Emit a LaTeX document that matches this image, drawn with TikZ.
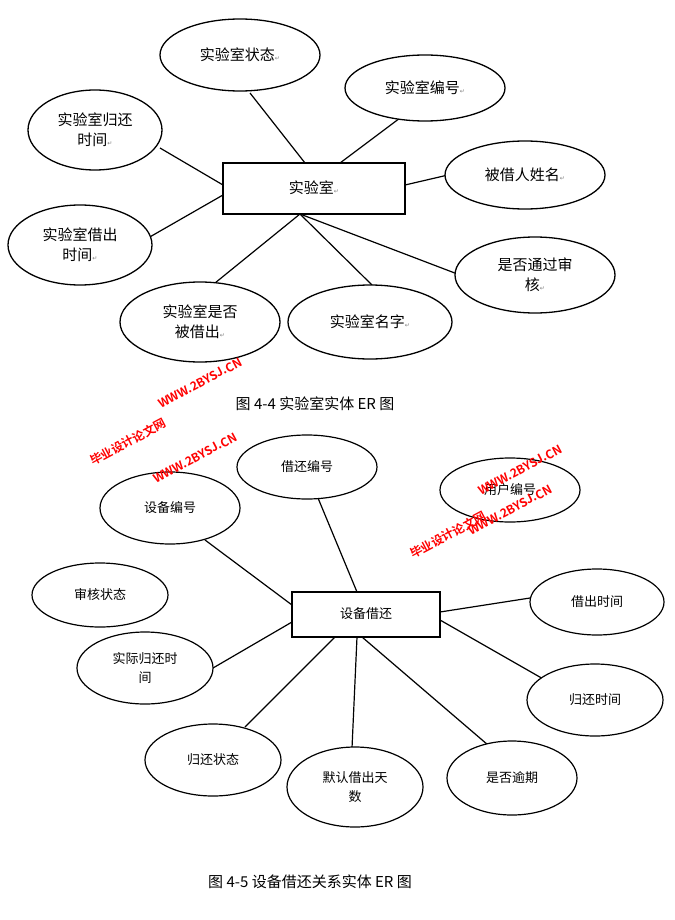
\documentclass[tikz,border=0pt]{standalone}
\usepackage{fontspec}
\setmainfont{Noto Sans CJK SC}
\newfontfamily\dv{DejaVu Sans}
\newfontfamily\wmf{Noto Sans CJK SC Bold}
\begin{document}
\begin{tikzpicture}[x=1pt,y=-1pt,
 ln/.style={line width=1.2pt},
 wm/.style={text=red,font=\wmf\fontsize{12}{12}\selectfont,rotate=28}]
\useasboundingbox (0,0) rectangle (674,920);
\newcommand\rt{{\dv\fontsize{6}{6}\selectfont\color{gray}↵}}
% top lines
\draw[ln] (305,163)--(250,93);
\draw[ln] (340,163)--(400,118);
\draw[ln] (223,185)--(160,148);
\draw[ln] (223,195)--(148,238);
\draw[ln] (405,185)--(448,175);
\draw[ln] (300,214)--(460,275);
\draw[ln] (300,214)--(215,283);
\draw[ln] (300,214)--(372,285);
\draw[line width=1.3pt,fill=white] (223,163) rectangle (405,214);
\node[font=\fontsize{15}{18}\selectfont] (e1) at (314,188) {实验室\rt};
\foreach \n/\x/\y/\a/\b/\t in {s1/240/55/80/36/{实验室状态\rt},s2/425/88/80/33/{实验室编号\rt},s3/95/130/67/40/{实验室归还\\时间\rt},s4/525/175/80/34/{被借人姓名\rt},s5/80/245/72/40/{实验室借出\\时间\rt},s6/535/275/80/38/{是否通过审\\核\rt},s7/200/322/80/40/{实验室是否\\被借出\rt},s8/370/322/82/37/{实验室名字\rt}}
 {\draw[line width=1.3pt,fill=white] (\x,\y) ellipse [x radius=\a,y radius=\b];
  \node[align=center,font=\fontsize{15}{20}\selectfont] (\n) at (\x,\y) {\t};}
\node[font=\fontsize{15}{18}\selectfont] (c1) at (315,404) {图 4-4 实验室实体 ER 图};
% bottom lines
\draw[ln] (318,498)--(357,592);
\draw[ln] (205,540)--(292,605);
\draw[ln] (440,612)--(530,598);
\draw[ln] (213,668)--(292,622);
\draw[ln] (440,620)--(545,680);
\draw[ln] (245,727)--(335,637);
\draw[ln] (352,748)--(357,637);
\draw[ln] (488,745)--(362,637);
\draw[line width=1.3pt,fill=white] (292,592) rectangle (440,637);
\node[font=\fontsize{13}{16}\selectfont] (e2) at (366,614) {设备借还};
\foreach \n/\x/\y/\a/\b/\t in {b1/307/467/70/32/{借还编号},b2/510/490/70/32/{用户编号},b3/170/508/70/36/{设备编号},b4/100/595/68/32/{审核状态},b5/597/602/67/33/{借出时间},b6/145/668/68/36/{实际归还时\\间},b7/595/700/68/36/{归还时间},b8/213/760/68/36/{归还状态},b9/355/787/68/40/{默认借出天\\数},b10/512/778/65/37/{是否逾期}}
 {\draw[line width=1.2pt,fill=white] (\x,\y) ellipse [x radius=\a,y radius=\b];
  \node[align=center,font=\fontsize{13}{19}\selectfont] (\n) at (\x,\y) {\t};}
\node[font=\fontsize{15}{18}\selectfont] (c2) at (310,882) {图 4-5 设备借还关系实体 ER 图};
% watermarks
\node[wm] (w1) at (200,383) {WWW.2BYSJ.CN};
\node[wm] (w2) at (128,442) {毕业设计论文网};
\node[wm] (w3) at (195,458) {WWW.2BYSJ.CN};
\node[wm] (w4) at (520,470) {WWW.2BYSJ.CN};
\node[wm] (w5) at (448,535) {毕业设计论文网};
\node[wm] (w6) at (510,510) {WWW.2BYSJ.CN};
\end{tikzpicture}
\end{document}
